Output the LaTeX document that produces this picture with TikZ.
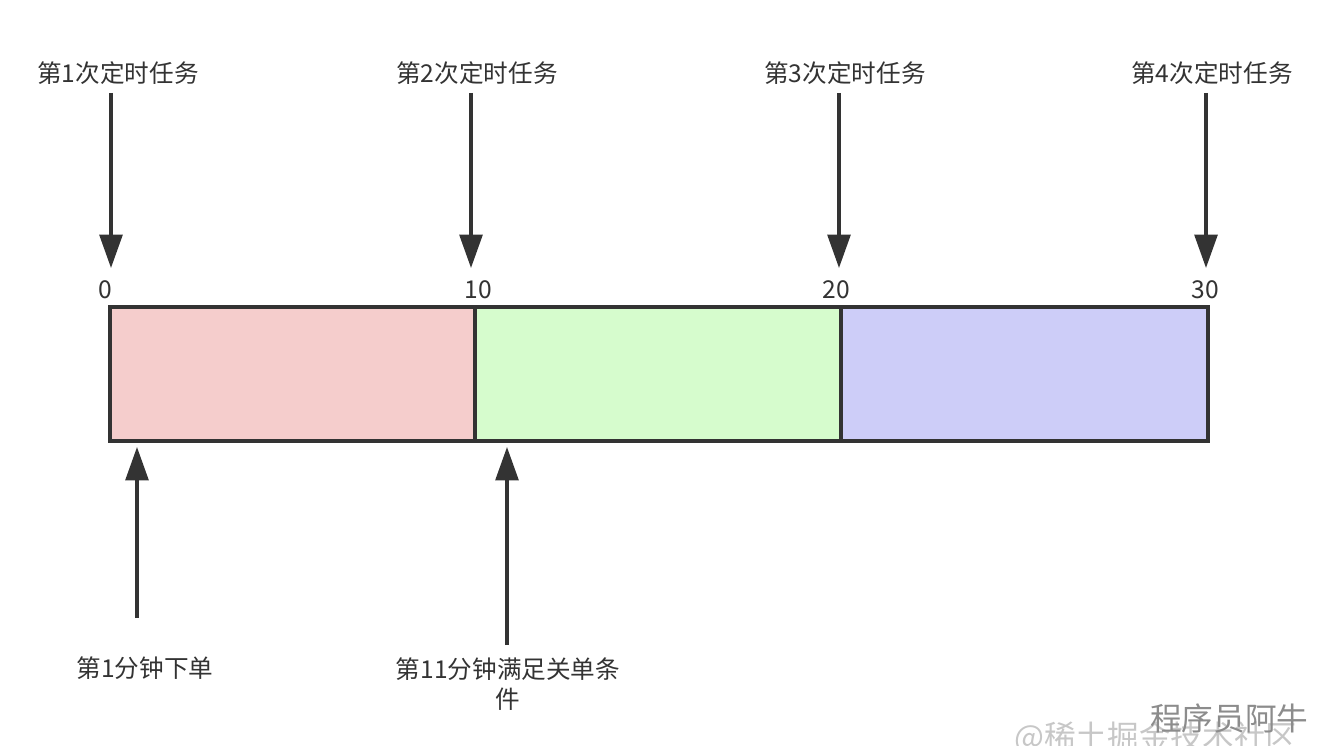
\documentclass[tikz,border=0pt]{standalone}
\usepackage{fontspec}
\setmainfont{Noto Sans CJK SC}
\usetikzlibrary{arrows.meta}
\definecolor{ink}{HTML}{333333}
\definecolor{segA}{HTML}{F5CDCC}
\definecolor{segB}{HTML}{D6FCCD}
\definecolor{segC}{HTML}{CDCDF8}
\tikzset{
  label/.style={font=\fontsize{14pt}{17pt}\selectfont, text=ink, inner sep=0pt},
  tick/.style={font=\fontsize{14pt}{17pt}\selectfont, text=ink, inner sep=0pt},
  seg/.style={draw=ink, line width=2pt},
  pointer/.style={draw=ink, line width=1.9pt, -{Triangle[length=19pt, width=13pt]}},
  sign/.style={inner sep=0pt, anchor=west, font=\fontsize{18pt}{21pt}\selectfont},
}
\begin{document}
\begin{tikzpicture}[x=0.02cm, y=-0.02cm]
  \useasboundingbox (0,0) rectangle (1328,746);
  % time segments
  \path[seg, fill=segA] (110,307) rectangle (475,441);
  \path[seg, fill=segB] (475,307) rectangle (841,441);
  \path[seg, fill=segC] (841,307) rectangle (1208,441);
  % tick values
  \node[tick] (t0) at (105,290) {0};
  \node[tick] (t1) at (478,290) {10};
  \node[tick] (t2) at (836,290) {20};
  \node[tick] (t3) at (1205,290) {30};
  % scheduled runs
  \node[label] (r1) at (118,73) {第1次定时任务};
  \node[label] (r2) at (477,73) {第2次定时任务};
  \node[label] (r3) at (845,73) {第3次定时任务};
  \node[label] (r4) at (1212,73) {第4次定时任务};
  \coordinate (a1s) at (111,93);  \coordinate (a1e) at (111,268);
  \coordinate (a2s) at (471,93);  \coordinate (a2e) at (471,268);
  \coordinate (a3s) at (839,93);  \coordinate (a3e) at (839,268);
  \coordinate (a4s) at (1206,93); \coordinate (a4e) at (1206,268);
  \draw[pointer] (a1s) -- (a1e);
  \draw[pointer] (a2s) -- (a2e);
  \draw[pointer] (a3s) -- (a3e);
  \draw[pointer] (a4s) -- (a4e);
  % order events
  \node[label] (e1) at (145,668) {第1分钟下单};
  \node[label, align=center] (e2) at (508,684) {第11分钟满足关单条\\件};
  \coordinate (b1s) at (137,618); \coordinate (b1e) at (137,447);
  \coordinate (b2s) at (507,645); \coordinate (b2e) at (507,447);
  \draw[pointer] (b1s) -- (b1e);
  \draw[pointer] (b2s) -- (b2e);
  % corner signature
  \node[sign, text=black!22] (wm1) at (1014,738) {@稀土掘金技术社区};
  \node[sign, text=black!45] (wm2) at (1150,718) {程序员阿牛};
\end{tikzpicture}
\end{document}
